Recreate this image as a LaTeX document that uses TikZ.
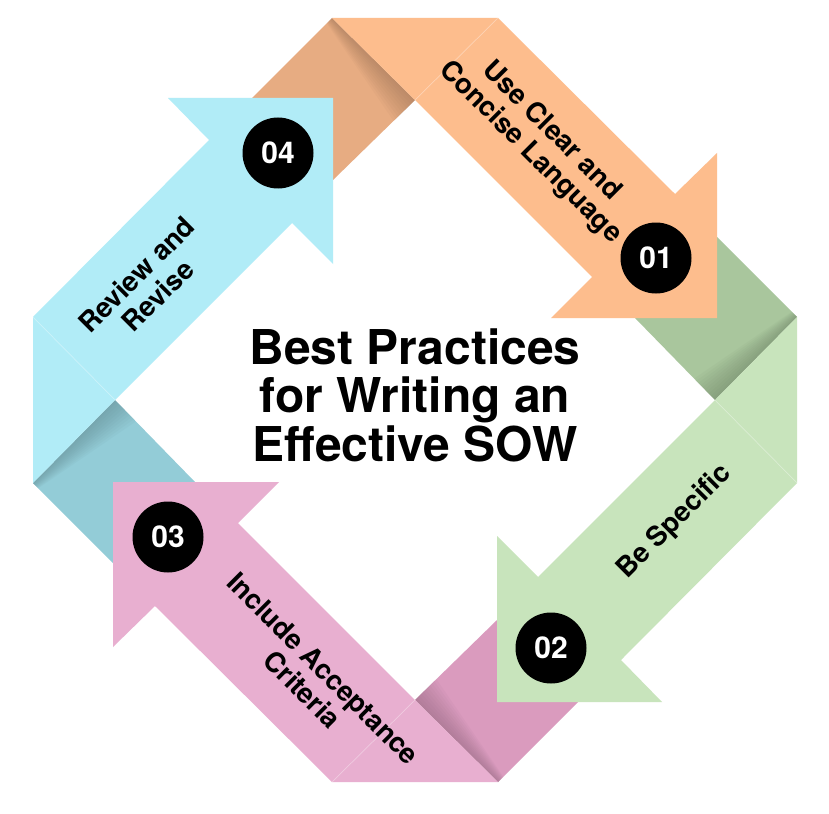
\documentclass[tikz,border=0pt]{standalone}
\usepackage{fontspec}
\setmainfont{TeX Gyre Heros}
\definecolor{orL}{HTML}{FDBD8D}
\definecolor{orD}{HTML}{E7AC82}
\definecolor{grL}{HTML}{C8E4BC}
\definecolor{grD}{HTML}{A9C69D}
\definecolor{piL}{HTML}{E8AFD0}
\definecolor{piD}{HTML}{DA9BBE}
\definecolor{blL}{HTML}{B1ECF7}
\definecolor{blD}{HTML}{93CCD7}
\tikzset{
  numdot/.style={circle, fill=black, minimum size=71pt, inner sep=0pt, text=white,
    font=\bfseries\fontsize{30}{30}\selectfont},
  lab/.style={align=center, inner sep=0pt, text=black,
    font=\bfseries\fontsize{27.5}{30}\selectfont},
  ttl/.style={align=center, inner sep=0pt, text=black,
    font=\bfseries\fontsize{48}{48.5}\selectfont}
}
\begin{document}
\begin{tikzpicture}[x=1pt,y=-1pt]
\useasboundingbox[fill=white] (0,0) rectangle (829,813);
% folded (dark) parts with crease shadow
\foreach \ang/\D in {0/orD,-90/grD,-180/piD,-270/blD}{
  \begin{scope}[rotate around={\ang:(415,400)}]
    \fill[\D] (332,18)--(415,100)--(333,180)--(252,98)--cycle;
    \foreach \w in {3,6,...,30}{
      \fill[\D!60!black,opacity=0.05] (332,18)--(415,100)
        --({415-\w/1.414},{100+\w/1.414})
        --({332-0.25*\w/1.414},{18+0.25*\w/1.414})--cycle;
    }
  \end{scope}
}
% light bands with arrowheads
\foreach \ang/\L in {0/orL,-90/grL,-180/piL,-270/blL}{
  \begin{scope}[rotate around={\ang:(415,400)}]
    \fill[\L] (332,18)--(498,18)--(675,194)--(717,153)--(717,318)
      --(551,318)--(592,277)--(415,100)--cycle;
    \draw[white,opacity=0.35,line width=0.7pt] (498,18)--(415,100);
  \end{scope}
}
% number badges
\node[numdot] (n1) at (656,258) {01};
\node[numdot] (n2) at (551,648) {02};
\node[numdot] (n3) at (168,537) {03};
\node[numdot] (n4) at (278,153) {04};
% labels
\node[lab,rotate=-45] (t1) at (541,142) {Use Clear and\\Concise Language};
\node[lab,rotate=45] (t2) at (675,522) {Be Specific};
\node[lab,rotate=-45] (t3) at (313,679) {Include Acceptance\\Criteria};
\node[lab,rotate=45] (t4) at (147,285) {Review and\\Revise};
% title
\node[ttl] (title) at (415,395) {Best Practices\\for Writing an\\Effective SOW};
\end{tikzpicture}
\end{document}
